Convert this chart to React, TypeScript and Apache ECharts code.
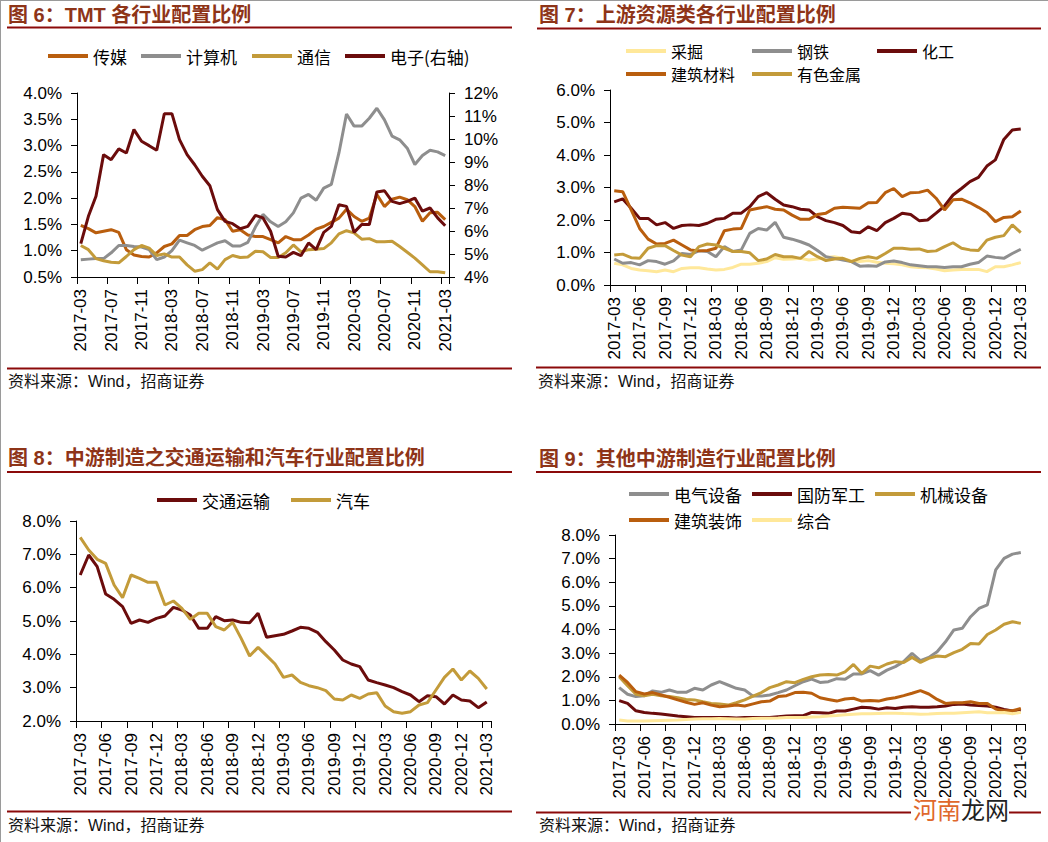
import React, { useEffect, useRef } from 'react';
import * as echarts from 'echarts';

const months = [
  '2017-03','2017-04','2017-05','2017-06','2017-07','2017-08','2017-09','2017-10','2017-11','2017-12',
  '2018-01','2018-02','2018-03','2018-04','2018-05','2018-06','2018-07','2018-08','2018-09','2018-10','2018-11','2018-12',
  '2019-01','2019-02','2019-03','2019-04','2019-05','2019-06','2019-07','2019-08','2019-09','2019-10','2019-11','2019-12',
  '2020-01','2020-02','2020-03','2020-04','2020-05','2020-06','2020-07','2020-08','2020-09','2020-10','2020-11','2020-12',
  '2021-01','2021-02','2021-03'
];

// Fig 6: TMT
const media = [1.48,1.42,1.34,1.37,1.40,1.35,1.02,0.92,0.89,0.88,0.96,1.08,1.13,1.29,1.29,1.40,1.46,1.48,1.63,1.59,1.37,1.40,1.30,1.27,1.27,1.21,1.15,1.27,1.21,1.21,1.30,1.41,1.46,1.54,1.62,1.79,1.65,1.56,1.62,2.07,1.84,1.98,2.02,1.97,1.84,1.56,1.72,1.73,1.59];
const computer = [0.83,0.84,0.85,0.85,0.96,1.10,1.10,1.08,1.07,1.02,0.83,0.88,1.00,1.20,1.15,1.10,1.01,1.08,1.15,1.19,1.09,1.09,1.16,1.45,1.69,1.55,1.46,1.55,1.72,2.00,2.07,1.96,2.19,2.26,2.86,3.60,3.37,3.37,3.52,3.71,3.49,3.18,3.11,2.95,2.64,2.81,2.91,2.88,2.81];
const telecom = [1.10,1.02,0.85,0.81,0.78,0.77,0.89,1.02,1.10,1.05,0.91,0.94,0.88,0.88,0.73,0.61,0.64,0.77,0.65,0.83,0.91,0.87,0.88,0.99,0.98,0.87,0.87,0.96,1.11,0.98,1.02,1.03,1.04,1.15,1.32,1.38,1.34,1.22,1.23,1.17,1.17,1.18,1.08,0.97,0.86,0.73,0.60,0.60,0.58];
const electronics = [5.45,6.64,7.51,9.32,9.10,9.57,9.39,10.41,9.90,9.71,9.51,11.10,11.10,9.97,9.32,8.88,8.38,7.97,6.93,6.42,6.32,6.10,6.20,6.68,6.57,5.99,4.90,4.87,5.07,4.93,5.48,5.19,5.94,6.20,7.14,7.07,5.94,6.28,6.28,7.70,7.75,7.29,7.19,7.29,7.43,6.86,7.00,6.57,6.23];

// Fig 7: upstream
const mining = [0.67,0.62,0.51,0.46,0.44,0.41,0.46,0.41,0.51,0.53,0.53,0.49,0.46,0.48,0.54,0.64,0.64,0.67,0.72,0.84,0.79,0.80,0.82,0.77,0.80,0.85,0.87,0.82,0.74,0.72,0.75,0.70,0.67,0.65,0.62,0.56,0.54,0.53,0.49,0.44,0.46,0.48,0.48,0.48,0.41,0.56,0.56,0.62,0.69];
const steel = [0.80,0.67,0.69,0.62,0.75,0.72,0.64,0.74,0.97,0.94,1.05,1.03,0.87,1.18,1.03,1.08,1.59,1.74,1.69,1.93,1.47,1.41,1.33,1.23,1.06,0.87,0.82,0.77,0.72,0.58,0.59,0.58,0.71,0.74,0.69,0.62,0.59,0.56,0.56,0.54,0.56,0.56,0.64,0.69,0.89,0.85,0.82,0.97,1.10];
const chemical = [2.56,2.65,2.36,2.05,2.05,1.85,1.92,1.74,1.83,1.85,1.83,1.90,2.02,2.05,2.21,2.21,2.41,2.72,2.84,2.64,2.46,2.41,2.33,2.31,2.10,1.98,1.92,1.83,1.64,1.61,1.79,1.67,1.92,2.05,2.21,2.17,1.98,2.00,2.21,2.43,2.77,2.97,3.18,3.31,3.66,3.85,4.48,4.77,4.80];
const buildMat = [2.90,2.87,2.31,1.74,1.41,1.26,1.28,1.38,1.23,1.08,1.05,1.06,1.13,1.67,1.72,1.74,2.31,2.36,2.41,2.33,2.31,2.15,2.02,2.02,2.17,2.21,2.36,2.39,2.38,2.36,2.53,2.54,2.84,2.97,2.72,2.84,2.85,2.92,2.67,2.31,2.62,2.64,2.53,2.39,2.23,1.95,2.08,2.10,2.28];
const nonferrous = [0.92,0.95,0.84,0.82,1.13,1.21,1.21,1.06,0.92,0.87,1.18,1.26,1.23,1.13,1.03,1.03,0.99,0.75,0.80,0.94,0.87,0.87,0.82,1.03,0.87,0.75,0.80,0.82,0.72,0.82,0.87,0.82,0.97,1.13,1.13,1.10,1.11,1.03,1.05,1.18,1.30,1.13,1.08,1.06,1.38,1.47,1.52,1.85,1.61];

// Fig 8: transport & auto
const transport = [6.38,6.98,6.63,5.81,5.65,5.43,4.93,5.03,4.96,5.08,5.15,5.41,5.33,5.18,4.78,4.78,5.13,5.01,5.03,4.96,4.95,5.23,4.51,4.56,4.60,4.70,4.81,4.78,4.66,4.38,4.13,3.83,3.71,3.63,3.23,3.15,3.08,3.00,2.88,2.78,2.58,2.76,2.73,2.51,2.78,2.63,2.60,2.40,2.57];
const auto = [7.51,7.13,6.85,6.73,6.08,5.70,6.38,6.28,6.16,6.16,5.48,5.60,5.38,5.05,5.23,5.23,4.83,4.73,4.96,4.48,3.95,4.21,3.96,3.71,3.31,3.38,3.16,3.06,3.00,2.91,2.66,2.63,2.78,2.68,2.81,2.85,2.45,2.28,2.23,2.28,2.48,2.55,2.93,3.31,3.56,3.23,3.50,3.28,2.96];

// Fig 9: other midstream manufacturing
const electrical = [1.54,1.26,1.16,1.20,1.40,1.34,1.44,1.34,1.34,1.51,1.44,1.65,1.79,1.65,1.51,1.44,1.18,1.18,1.23,1.33,1.44,1.62,1.79,1.90,1.76,1.79,1.92,1.89,2.12,2.12,2.26,2.07,2.28,2.43,2.64,2.99,2.68,2.82,3.06,3.48,3.98,4.05,4.54,4.89,5.04,6.52,7.01,7.19,7.26];
const defense = [0.99,0.87,0.56,0.49,0.45,0.42,0.38,0.34,0.31,0.28,0.27,0.27,0.27,0.28,0.25,0.27,0.27,0.28,0.28,0.31,0.34,0.35,0.35,0.49,0.48,0.45,0.55,0.55,0.63,0.71,0.69,0.63,0.69,0.66,0.71,0.73,0.71,0.71,0.73,0.76,0.83,0.85,0.80,0.78,0.76,0.71,0.62,0.55,0.59];
const machinery = [2.00,1.62,1.26,1.20,1.26,1.20,1.16,1.11,1.04,1.02,0.94,0.87,0.85,0.80,0.90,1.02,1.18,1.33,1.54,1.65,1.79,1.75,1.89,2.00,2.07,2.10,2.07,2.21,2.52,2.14,2.45,2.38,2.54,2.64,2.60,2.82,2.61,2.78,2.88,2.85,3.02,3.16,3.41,3.39,3.79,3.98,4.22,4.33,4.26];
const buildDeco = [2.07,1.76,1.37,1.27,1.33,1.23,1.13,1.02,0.92,0.83,0.90,0.80,0.73,0.76,0.80,0.76,0.85,0.94,0.97,1.16,1.20,1.33,1.34,1.30,1.11,1.04,0.97,1.06,1.09,0.97,0.99,0.97,1.06,1.11,1.20,1.30,1.41,1.27,1.04,0.87,0.90,0.90,0.94,0.87,0.87,0.63,0.56,0.56,0.66];
const composite = [0.17,0.13,0.13,0.13,0.14,0.15,0.16,0.17,0.19,0.21,0.22,0.22,0.23,0.22,0.21,0.21,0.23,0.24,0.24,0.25,0.27,0.28,0.28,0.30,0.31,0.34,0.36,0.39,0.41,0.43,0.43,0.44,0.45,0.46,0.44,0.43,0.41,0.42,0.44,0.45,0.46,0.48,0.50,0.52,0.48,0.48,0.49,0.43,0.50];

const titles = ['图 6：TMT 各行业配置比例', '图 7：上游资源类各行业配置比例', '图 8：中游制造之交通运输和汽车行业配置比例', '图 9：其他中游制造行业配置比例'];
const sourceText = '资料来源：Wind，招商证券';

const MAROON = '#6B0C0C';
const GRAY = '#8E8E8E';
const GOLD = '#C39B3A';
const ORANGE = '#B95E0E';
const PALE = '#FFE89A';
const TITLE_RED = '#8E3418';
const RULE_RED = '#8B0A0A';

const LATIN = '"Liberation Sans", Arial, "Noto Sans CJK SC"';
const CJK = '"Noto Sans CJK SC", "Liberation Sans"';

type S = { name: string; data: number[]; color: string; grid: number; y: number; lx: number; ly: number; fs: number };

const seriesDefs: S[] = [
  { name: '传媒', data: media, color: ORANGE, grid: 0, y: 0, lx: 48, ly: 56, fs: 17 },
  { name: '计算机', data: computer, color: GRAY, grid: 0, y: 0, lx: 141, ly: 56, fs: 17 },
  { name: '通信', data: telecom, color: GOLD, grid: 0, y: 0, lx: 252, ly: 56, fs: 17 },
  { name: '电子(右轴)', data: electronics, color: MAROON, grid: 0, y: 1, lx: 345, ly: 56, fs: 17 },
  { name: '采掘', data: mining, color: PALE, grid: 1, y: 2, lx: 626, ly: 51, fs: 16 },
  { name: '钢铁', data: steel, color: GRAY, grid: 1, y: 2, lx: 752, ly: 51, fs: 16 },
  { name: '化工', data: chemical, color: MAROON, grid: 1, y: 2, lx: 877, ly: 51, fs: 16 },
  { name: '建筑材料', data: buildMat, color: ORANGE, grid: 1, y: 2, lx: 626, ly: 74, fs: 16 },
  { name: '有色金属', data: nonferrous, color: GOLD, grid: 1, y: 2, lx: 752, ly: 74, fs: 16 },
  { name: '交通运输', data: transport, color: MAROON, grid: 2, y: 3, lx: 157, ly: 500, fs: 17 },
  { name: '汽车', data: auto, color: GOLD, grid: 2, y: 3, lx: 291, ly: 500, fs: 17 },
  { name: '电气设备', data: electrical, color: GRAY, grid: 3, y: 4, lx: 629, ly: 494, fs: 17 },
  { name: '国防军工', data: defense, color: MAROON, grid: 3, y: 4, lx: 752, ly: 494, fs: 17 },
  { name: '机械设备', data: machinery, color: GOLD, grid: 3, y: 4, lx: 875, ly: 494, fs: 17 },
  { name: '建筑装饰', data: buildDeco, color: ORANGE, grid: 3, y: 4, lx: 629, ly: 520, fs: 17 },
  { name: '综合', data: composite, color: PALE, grid: 3, y: 4, lx: 752, ly: 520, fs: 17 },
];

function buildOption() {
  const pct1 = (v: number) => v.toFixed(1) + '%';
  const pct0 = (v: number) => v.toFixed(0) + '%';
  const yBase = (gridIndex: number, min: number, max: number, interval: number, fmt: (v: number) => string, position = 'left') => ({
    type: 'value', gridIndex, min, max, interval, position,
    axisLine: { show: true, lineStyle: { color: '#000', width: 1 } },
    axisTick: { show: true, length: 6, inside: false, lineStyle: { color: '#000' } },
    splitLine: { show: false },
    axisLabel: { formatter: fmt, fontSize: 17, color: '#000', margin: 15, fontFamily: LATIN },
  });
  const xBase = (gridIndex: number, step: number) => ({
    type: 'category', gridIndex, data: months, boundaryGap: true,
    axisLine: { show: true, lineStyle: { color: '#000', width: 1 } },
    axisTick: { show: true, interval: step - 1, length: 7, lineStyle: { color: '#000' } },
    axisLabel: { interval: step - 1, rotate: 90, fontSize: 17, color: '#000', margin: 12, fontFamily: LATIN },
    splitLine: { show: false },
  });

  const graphic: any[] = [
    { type: 'line', shape: { x1: 0, y1: 0.5, x2: 1048, y2: 0.5 }, style: { stroke: '#9a9a9a', lineWidth: 1 } },
    { type: 'line', shape: { x1: 0.5, y1: 0, x2: 0.5, y2: 842 }, style: { stroke: '#9a9a9a', lineWidth: 1 } },
  ];
  const titlePos = [[8, 15], [539, 15], [8, 458], [539, 459]];
  titles.forEach((t, i) => {
    graphic.push({ type: 'text', x: titlePos[i][0], y: titlePos[i][1], style: { text: t, fill: TITLE_RED, font: 'bold 20px ' + LATIN, verticalAlign: 'middle' } });
  });
  const rules = [[7, 512, 27.5], [537, 1041, 28.5], [7, 512, 472], [536, 1041, 472], [7, 512, 368.5], [536, 1041, 367.5], [7, 512, 811.5], [536, 1041, 812.5]];
  rules.forEach(r => graphic.push({ type: 'line', shape: { x1: r[0], y1: r[2], x2: r[1], y2: r[2] }, style: { stroke: RULE_RED, lineWidth: 2 } }));
  const srcPos = [[8, 381], [538, 381], [8, 825], [539, 825]];
  srcPos.forEach(p => graphic.push({ type: 'text', x: p[0], y: p[1], style: { text: sourceText, fill: '#111', font: '16px ' + LATIN, verticalAlign: 'middle' } }));
  // watermark
  graphic.push({ type: 'rect', shape: { x: 911, y: 797, width: 98, height: 24 }, style: { fill: '#fff' }, z: 50 });
  graphic.push({ type: 'text', x: 913, y: 808, z: 51, style: { text: '河南', fill: '#E0682C', font: '24px ' + CJK, verticalAlign: 'middle' } });
  graphic.push({ type: 'text', x: 961, y: 808, z: 51, style: { text: '龙网', fill: '#222', font: '24px ' + CJK, verticalAlign: 'middle' } });

  return {
    animation: false,
    backgroundColor: '#fff',
    textStyle: { fontFamily: LATIN },
    grid: [
      { left: 77, top: 93, width: 372, height: 184 },
      { left: 610, top: 90, width: 415, height: 195 },
      { left: 76, top: 521, width: 415, height: 200 },
      { left: 615, top: 535, width: 410, height: 189 },
    ],
    xAxis: [xBase(0, 4), xBase(1, 3), xBase(2, 3), xBase(3, 3)],
    yAxis: [
      yBase(0, 0.5, 4, 0.5, pct1),
      yBase(0, 4, 12, 1, pct0, 'right'),
      yBase(1, 0, 6, 1, pct1),
      yBase(2, 2, 8, 1, pct1),
      yBase(3, 0, 8, 1, pct1),
    ],
    legend: seriesDefs.map(s => ({
      data: [s.name], left: s.lx, top: s.ly - 9, padding: 0, itemWidth: 40, itemHeight: 4, itemGap: 0,
      icon: 'rect', selectedMode: false,
      textStyle: { fontSize: s.fs, lineHeight: 18, color: '#000', fontFamily: CJK },
    })),
    series: seriesDefs.map(s => ({
      type: 'line', name: s.name, data: s.data,
      xAxisIndex: s.grid, yAxisIndex: s.y,
      symbol: 'none', color: s.color,
      lineStyle: { width: 3, color: s.color },
    })),
    graphic,
  };
}

export default function App() {
  const ref = useRef<HTMLDivElement>(null);
  useEffect(() => {
    document.body.style.margin = '0';
    if (!ref.current) return;
    const chart = echarts.init(ref.current, undefined, { renderer: 'svg' });
    chart.setOption(buildOption() as any);
    return () => chart.dispose();
  }, []);
  return <div ref={ref} style={{ position: 'absolute', left: 0, top: 0, width: 1048, height: 842, background: '#fff' }} />;
}
